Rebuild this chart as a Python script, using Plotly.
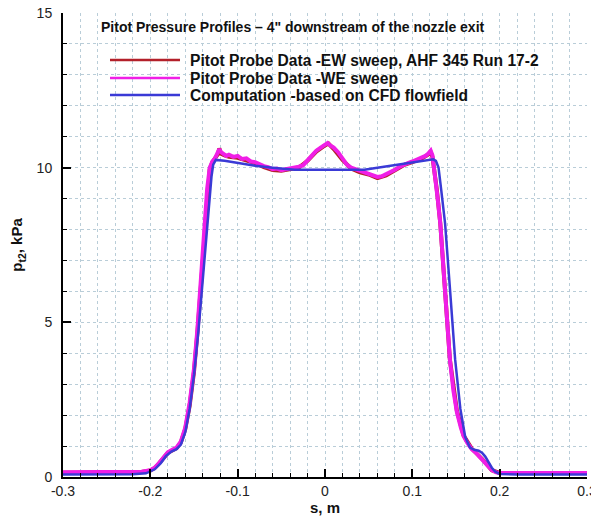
import plotly.graph_objects as go

# ---------------- data ----------------
s_cfd = [-0.30, -0.25, -0.22, -0.205, -0.195, -0.188, -0.182, -0.176, -0.170, -0.165,
         -0.160, -0.155, -0.150, -0.145, -0.140, -0.136, -0.133, -0.130, -0.128, -0.125,
         -0.115, -0.100, -0.080, -0.060, -0.045, -0.035, 0.000, 0.045, 0.060, 0.080,
         0.100, 0.115, 0.124, 0.127, 0.130, 0.133, 0.1375, 0.1433, 0.149, 0.155,
         0.1605, 0.166, 0.171, 0.176, 0.180, 0.1835, 0.187, 0.191, 0.195, 0.200,
         0.220, 0.300]
p_cfd = [0.08, 0.08, 0.09, 0.12, 0.25, 0.45, 0.68, 0.82, 0.90, 1.05,
         1.45, 2.20, 3.30, 4.70, 6.30, 7.70, 8.80, 9.70, 10.10, 10.25,
         10.22, 10.15, 10.06, 10.00, 9.95, 9.93, 9.93, 9.93, 10.00, 10.08,
         10.15, 10.22, 10.27, 10.22, 10.00, 9.30, 8.20, 6.00, 3.80, 2.20,
         1.30, 0.95, 0.88, 0.85, 0.78, 0.66, 0.50, 0.30, 0.17, 0.10,
         0.08, 0.08]

s_we = [-0.300, -0.250, -0.220, -0.210, -0.200, -0.195, -0.190, -0.185, -0.180, -0.175,
        -0.170, -0.165, -0.160, -0.155, -0.150, -0.146, -0.142, -0.138, -0.135, -0.132,
        -0.129, -0.126, -0.123, -0.121, -0.119, -0.116, -0.113, -0.110, -0.105, -0.100,
        -0.095, -0.090, -0.085, -0.080, -0.075, -0.070, -0.065, -0.060, -0.055, -0.050,
        -0.045, -0.040, -0.035, -0.030, -0.025, -0.020, -0.015, -0.010, -0.005, 0.000,
        0.003, 0.006, 0.010, 0.015, 0.020, 0.025, 0.030, 0.035, 0.040, 0.045,
        0.050, 0.055, 0.060, 0.065, 0.070, 0.075, 0.080, 0.085, 0.090, 0.095,
        0.100, 0.105, 0.110, 0.115, 0.118, 0.121, 0.123, 0.125, 0.127, 0.129,
        0.132, 0.1375, 0.143, 0.147, 0.151, 0.1555, 0.1586, 0.163, 0.168, 0.174,
        0.180, 0.186, 0.191, 0.196, 0.200, 0.250, 0.300]
p_we = [0.15, 0.15, 0.15, 0.17, 0.22, 0.30, 0.45, 0.62, 0.80, 0.88,
        0.95, 1.15, 1.60, 2.40, 3.50, 4.80, 6.40, 8.00, 9.30, 10.00,
        10.20, 10.30, 10.45, 10.60, 10.50, 10.45, 10.38, 10.42, 10.35, 10.38,
        10.28, 10.30, 10.20, 10.18, 10.10, 10.05, 10.02, 9.95, 9.97, 9.92,
        9.95, 9.97, 10.00, 10.03, 10.08, 10.25, 10.42, 10.55, 10.65, 10.75,
        10.80, 10.72, 10.65, 10.50, 10.30, 10.10, 10.00, 9.95, 9.88, 9.85,
        9.80, 9.75, 9.70, 9.72, 9.78, 9.85, 9.93, 10.02, 10.10, 10.15,
        10.20, 10.25, 10.30, 10.38, 10.45, 10.55, 10.40, 10.00, 9.60, 9.00,
        8.20, 6.00, 3.80, 2.80, 2.10, 1.60, 1.33, 1.10, 0.90, 0.75,
        0.57, 0.38, 0.22, 0.15, 0.13, 0.13, 0.13]

s_ew = [-0.300, -0.250, -0.220, -0.210, -0.200, -0.195, -0.190, -0.185, -0.180, -0.175,
        -0.170, -0.165, -0.160, -0.155, -0.150, -0.146, -0.142, -0.138, -0.135, -0.132,
        -0.129, -0.126, -0.123, -0.121, -0.119, -0.115, -0.110, -0.100, -0.090, -0.080,
        -0.070, -0.060, -0.050, -0.040, -0.030, -0.020, -0.010, 0.000, 0.004, 0.010,
        0.020, 0.030, 0.040, 0.050, 0.060, 0.070, 0.080, 0.090, 0.100, 0.110,
        0.118, 0.121, 0.123, 0.125, 0.128, 0.132, 0.1375, 0.143, 0.151, 0.1586,
        0.168, 0.180, 0.191, 0.200, 0.250, 0.300]
p_ew = [0.14, 0.14, 0.15, 0.16, 0.21, 0.29, 0.44, 0.60, 0.78, 0.86,
        0.93, 1.12, 1.55, 2.30, 3.40, 4.70, 6.30, 7.90, 9.20, 9.95,
        10.18, 10.28, 10.42, 10.62, 10.45, 10.40, 10.35, 10.32, 10.25, 10.15,
        10.02, 9.92, 9.90, 9.95, 10.00, 10.22, 10.52, 10.72, 10.78, 10.60,
        10.25, 9.97, 9.85, 9.78, 9.66, 9.75, 9.90, 10.08, 10.18, 10.28,
        10.42, 10.50, 10.35, 9.95, 9.30, 8.20, 6.00, 3.80, 2.15, 1.35,
        0.92, 0.58, 0.22, 0.13, 0.13, 0.13]

x_ticks = [-0.3, -0.2, -0.1, 0.0, 0.1, 0.2, 0.3]
x_tick_labels = ["-0.3", "-0.2", "-0.1", "0", "0.1", "0.2", "0.3"]
y_ticks = [0, 5, 10, 15]
y_tick_labels = ["0", "5", "10", "15"]

series_names = ["Pitot Probe Data -EW sweep, AHF 345 Run 17-2",
                "Pitot Probe Data -WE sweep",
                "Computation -based on CFD flowfield"]
series_colors = ["#b3202a", "#f01ee6", "#3a3ad6"]
chart_title = "Pitot Pressure Profiles \u2013 4\" downstream of the nozzle exit"

# ---------------- layout helpers ----------------
# the page body has an 8px default margin, so the figure is drawn 8px smaller
OFF = 8
W, H = 599 - OFF, 524 - OFF
ML, MR, MT, MB = 63 - OFF, 12, 13 - OFF, 47
PW, PH = W - ML - MR, H - MT - MB


def px(xp):
    return (xp - (ML + OFF)) / PW


def py(yp):
    return (MT + OFF + PH - yp) / PH


FONT = "Liberation Sans, Arial, Helvetica, sans-serif"

fig = go.Figure()
fig.add_trace(go.Scatter(x=s_ew, y=p_ew, mode="lines", name=series_names[0],
                         line=dict(color=series_colors[0], width=4), showlegend=False))
fig.add_trace(go.Scatter(x=s_we, y=p_we, mode="lines", name=series_names[1],
                         line=dict(color=series_colors[1], width=4), showlegend=False))
fig.add_trace(go.Scatter(x=s_cfd, y=p_cfd, mode="lines", name=series_names[2],
                         line=dict(color=series_colors[2], width=2.5), showlegend=False))

grid_color = "#b9cdd8"
fig.update_xaxes(
    range=[-0.3, 0.3], tickvals=x_ticks, ticktext=x_tick_labels,
    showline=True, linecolor="black", linewidth=2, mirror=False,
    ticks="inside", ticklen=8, tickwidth=2, tickcolor="black",
    showgrid=True, gridcolor=grid_color, griddash="dot", gridwidth=1,
    zeroline=False, automargin=False, ticklabelstandoff=0, ticklabeloverflow="allow",
    minor=dict(dtick=0.02, ticks="inside", ticklen=4, tickwidth=1, tickcolor="black",
               showgrid=True, gridcolor=grid_color, griddash="dot", gridwidth=1),
    tickfont=dict(family=FONT, size=14, color="#222"),
    title=dict(text="<b>s, m</b>", font=dict(family=FONT, size=15, color="#111"), standoff=5),
)
fig.update_yaxes(
    range=[0, 15], tickvals=y_ticks, ticktext=y_tick_labels,
    showline=True, linecolor="black", linewidth=2, mirror=False,
    ticks="inside", ticklen=8, tickwidth=2, tickcolor="black",
    showgrid=True, gridcolor=grid_color, griddash="dot", gridwidth=1,
    zeroline=False, automargin=False, ticklabelstandoff=6, ticklabeloverflow="allow",
    minor=dict(dtick=1, ticks="inside", ticklen=4, tickwidth=1, tickcolor="black",
               showgrid=True, gridcolor=grid_color, griddash="dot", gridwidth=1),
    tickfont=dict(family=FONT, size=14, color="#222"),
    title=dict(text="<b>p<sub>t2</sub>, kPa</b>", font=dict(family=FONT, size=15, color="#111"),
               standoff=10),
)

# title inside the plot
annotations = [dict(xref="paper", yref="paper", x=px(99), y=py(27), xanchor="left",
                    yanchor="middle", text="<b>" + chart_title + "</b>", showarrow=False,
                    font=dict(family=FONT, size=14, color="#111"))]
shapes = []
legend_rows = [60, 78, 95]
for name, color, row in zip(series_names, series_colors, legend_rows):
    shapes.append(dict(type="line", xref="paper", yref="paper", x0=px(110), x1=px(180),
                       y0=py(row), y1=py(row), line=dict(color=color, width=2.5)))
    annotations.append(dict(xref="paper", yref="paper", x=px(188), y=py(row), xanchor="left",
                            yanchor="middle", text="<b>" + name + "</b>", showarrow=False,
                            font=dict(family=FONT, size=15.6, color="#111")))

fig.update_layout(
    width=W, height=H, autosize=False,
    margin=dict(l=ML, r=MR, t=MT, b=MB),
    paper_bgcolor="white", plot_bgcolor="white",
    annotations=annotations, shapes=shapes, showlegend=False,
)

fig.write_html("out.html")
